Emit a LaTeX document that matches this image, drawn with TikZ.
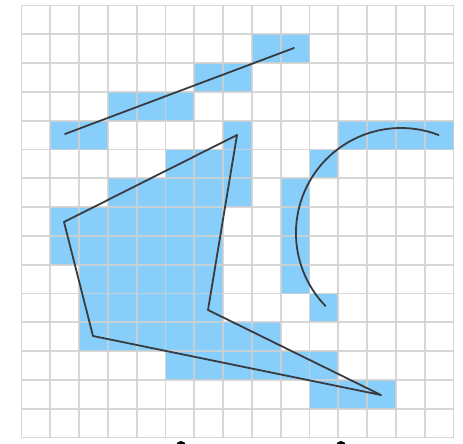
\documentclass[tikz,border=0pt]{standalone}
\usetikzlibrary{calc}
\definecolor{cellblue}{HTML}{87CEFA}
\definecolor{gridgray}{HTML}{D0D0D0}
\definecolor{inkgray}{HTML}{383C40}
\tikzset{
  cellfill/.style={fill=cellblue, draw=none},
  gridline/.style={draw=gridgray, line width=1.8pt, opacity=0.85},
  ink/.style={draw=inkgray, line width=1.8pt, line cap=round, line join=round},
  blackdot/.style={fill=black, draw=none}
}
\begin{document}
\begin{tikzpicture}[x=1pt,y=-1pt]
\useasboundingbox (0,0) rectangle (463,444);
\fill[white] (0,0) rectangle (463,444);
\begin{scope}
\clip (0,0) rectangle (463,444);
% blue cells
\def\ox{21.5}\def\oy{5.5}\def\cs{28.8}
\foreach \c/\r in {8/1,9/1,
  6/2,7/2,
  3/3,4/3,5/3,
  1/4,2/4,7/4,11/4,12/4,13/4,14/4,
  5/5,6/5,7/5,10/5,
  3/6,4/6,5/6,6/6,7/6,9/6,
  1/7,2/7,3/7,4/7,5/7,6/7,9/7,
  1/8,2/8,3/8,4/8,5/8,6/8,9/8,
  2/9,3/9,4/9,5/9,6/9,9/9,
  2/10,3/10,4/10,5/10,6/10,10/10,
  2/11,3/11,4/11,5/11,6/11,7/11,8/11,
  5/12,6/12,7/12,8/12,9/12,10/12,
  10/13,11/13,12/13}
  \path[cellfill] ({\ox+\c*\cs},{\oy+\r*\cs}) rectangle ({\ox+(\c+1)*\cs},{\oy+(\r+1)*\cs});
% grid
\foreach \i in {0,...,15}{
  \path[gridline] ({\ox+\i*\cs},\oy) -- ({\ox+\i*\cs},{\oy+15*\cs});
  \path[gridline] (\ox,{\oy+\i*\cs}) -- ({\ox+15*\cs},{\oy+\i*\cs});
}
% strokes
\coordinate (s1) at (65,134);
\coordinate (s2) at (294,48);
\path[ink] (s1) -- (s2);
\coordinate (p1) at (64,222);
\coordinate (p2) at (93,336);
\coordinate (p3) at (381,395);
\coordinate (p4) at (208,310);
\coordinate (p5) at (237,135);
\path[ink] (p1) -- (p2) -- (p3) -- (p4) -- (p5) -- cycle;
\coordinate (a1) at (438.6,135);
\path[ink] (a1) arc[start angle=-69, end angle=-224, radius=105];
% dots at bottom edge
\coordinate (d1) at (181,446);
\coordinate (d2) at (341,446);
\path[blackdot] (d1) circle (5);
\path[blackdot] (d2) circle (5);
\end{scope}
\end{tikzpicture}
\end{document}
